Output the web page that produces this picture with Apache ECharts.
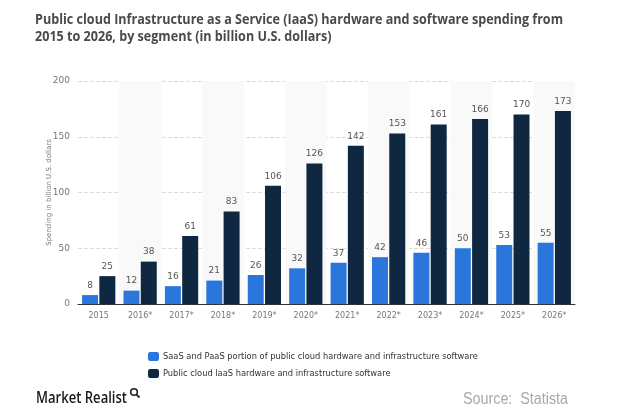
<!DOCTYPE html>
<html><head><meta charset="utf-8">
<script src="https://cdn.jsdelivr.net/npm/echarts@6/dist/echarts.min.js"></script>
<style>html,body{margin:0;padding:0;background:#fff}#c{width:634px;height:415px}</style>
</head><body><div id="c"></div>
<script>
const categories = ['2015','2016*','2017*','2018*','2019*','2020*','2021*','2022*','2023*','2024*','2025*','2026*'];
const saasPaas = [8,12,16,21,26,32,37,42,46,50,53,55];
const iaas = [25,38,61,83,106,126,142,153,161,166,170,173];
const yTicks = [0,50,100,150,200];
const seriesNames = ['SaaS and PaaS portion of public cloud hardware and infrastructure software','Public cloud IaaS hardware and infrastructure software'];
const legendLabels = ['SaaS and PaaS portion of public cloud hardware and infrastructure software','Public cloud laaS hardware and infrastructure software'];
const titleLines = ['Public cloud Infrastructure as a Service (IaaS) hardware and software spending from','2015 to 2026, by segment (in billion U.S. dollars)'];

const ctx = document.createElement('canvas').getContext('2d');
function fitScale(text, font, width){ ctx.font = font; return width / ctx.measureText(text).width; }
const titleFont = 'bold 14px "Open Sans"';
const tScale = fitScale(titleLines[0], titleFont, 528);
const mrFont = '600 16px "Open Sans"';
const mrScale = fitScale('Market Realist', mrFont, 91);
const srcFont = '16px "Liberation Sans"';
const srcScale = fitScale('Source:  Statista', srcFont, 105);

const chart = echarts.init(document.getElementById('c'));
const lbl = {show:true, position:'top', distance:5, color:'#555', fontSize:9, fontFamily:'DejaVu Sans'};
chart.setOption({
  animation:false,
  grid:{left:78, right:59, top:81, bottom:111},
  graphic:[
    {type:'text', x:35, y:20, scaleX:tScale, style:{text:titleLines[0], font:titleFont, fill:'#4a4a4a', textVerticalAlign:'middle'}},
    {type:'text', x:35, y:37, scaleX:tScale, style:{text:titleLines[1], font:titleFont, fill:'#4a4a4a', textVerticalAlign:'middle'}},
    {type:'text', x:36, y:398, scaleX:mrScale, style:{text:'Market Realist', font:mrFont, fill:'#1a1a1a', textVerticalAlign:'middle'}},
    {type:'circle', shape:{cx:134, cy:392, r:3.3}, style:{fill:'none', stroke:'#222', lineWidth:1.6}},
    {type:'line', shape:{x1:136.3, y1:394.3, x2:139.5, y2:397.5}, style:{stroke:'#222', lineWidth:1.8}},
    {type:'text', x:463, y:400, scaleX:srcScale, style:{text:'Source:  Statista', font:srcFont, fill:'#a8a8a8', textVerticalAlign:'middle'}}
  ],
  legend:{orient:'vertical', left:143, top:347, itemWidth:11, itemHeight:9, itemGap:8,
    icon:'roundRect',
    data:[{name:seriesNames[0]},{name:seriesNames[1]}],
    formatter:function(n){return legendLabels[seriesNames.indexOf(n)];},
    textStyle:{fontSize:8.3, color:'#333', fontFamily:'DejaVu Sans', padding:[0,0,0,-1]}},
  xAxis:{type:'category', data:categories,
    axisLine:{lineStyle:{color:'#333', width:1}}, axisTick:{show:false},
    axisLabel:{color:'#777', fontSize:8, margin:8, fontFamily:'DejaVu Sans'},
    splitArea:{show:true, areaStyle:{color:['rgba(255,255,255,0)','#f9f9f9']}}},
  yAxis:{type:'value', min:0, max:200, interval:50,
    name:'Spending in billion U.S. dollars', nameLocation:'middle', nameGap:25, nameMoveOverlap:false,
    nameTextStyle:{fontSize:7, color:'#777', fontFamily:'DejaVu Sans'},
    axisLabel:{color:'#777', fontSize:9, margin:8, fontFamily:'DejaVu Sans', formatter:function(v){return yTicks.indexOf(v)>=0?String(v):'';}},
    splitLine:{lineStyle:{color:'#ddd', type:'dashed'}},
    axisLine:{show:false}, axisTick:{show:false}},
  series:[
    {name:seriesNames[0], type:'bar', data:saasPaas, barWidth:16, barGap:'8%', itemStyle:{color:'#2a76dc'}, label:lbl},
    {name:seriesNames[1], type:'bar', data:iaas, barWidth:16, itemStyle:{color:'#0f2740'}, label:lbl}
  ]
});
</script></body></html>
